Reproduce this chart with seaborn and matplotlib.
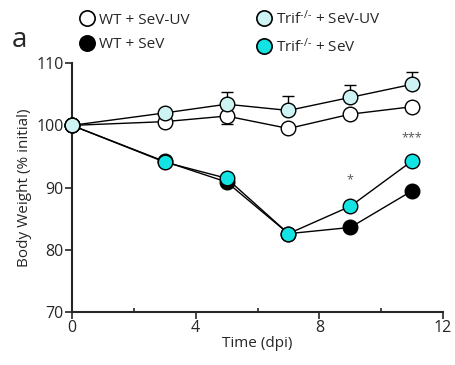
import matplotlib
matplotlib.use("Agg")
import matplotlib.pyplot as plt
from matplotlib.lines import Line2D
from matplotlib.ticker import MultipleLocator
import numpy as np
import pandas as pd
import seaborn as sns

# body weight (% initial)
days = [0, 3, 5, 7, 9, 11]
wt_uv = [100.0, 100.6, 101.5, 99.5, 101.8, 103.0]
wt_sev = [100.0, 94.2, 90.9, 82.6, 83.6, 89.5]
trif_uv = [100.0, 102.0, 103.4, 102.4, 104.5, 106.6]
trif_sev = [100.0, 94.1, 91.5, 82.6, 87.0, 94.3]
# visible error bars (one-sided)
trif_uv_err_up = [0.0, 0.0, 2.0, 2.4, 2.0, 1.9]
wt_uv_err_down = [0.0, 0.0, 1.2, 0.0, 0.0, 0.0]
# significance marks
sig_days = [9, 11]
sig_y = [91.3, 98.0]
sig_text = ["*", "***"]

labels = ["WT + SeV-UV", "WT + SeV", "Trif$^{\u2010/\u2010}$ + SeV-UV", "Trif$^{\u2010/\u2010}$ + SeV"]
colors = ["white", "black", "#cdf3f3", "#14e3e3"]

sns.set_style("ticks")
plt.rcParams["font.family"] = ["Open Sans", "DejaVu Sans"]
plt.rcParams["mathtext.fontset"] = "custom"
plt.rcParams["mathtext.rm"] = "Open Sans"
plt.rcParams["mathtext.it"] = "Open Sans"
plt.rcParams["mathtext.default"] = "rm"

fig = plt.figure(figsize=(4.55, 3.65), dpi=100)
ax = fig.add_axes([0.158, 0.145, 0.816, 0.682])

series = {labels[0]: wt_uv, labels[1]: wt_sev, labels[2]: trif_uv, labels[3]: trif_sev}
draw_order = [0, 1, 3, 2]

ax.errorbar(days, wt_uv, yerr=[wt_uv_err_down, [0] * len(days)], fmt="none",
            ecolor="black", elinewidth=1, capsize=4.5, capthick=1, zorder=1)
ax.errorbar(days, trif_uv, yerr=[[0] * len(days), trif_uv_err_up], fmt="none",
            ecolor="black", elinewidth=1, capsize=4.5, capthick=1, zorder=1)

for k, i in enumerate(draw_order):
    df = pd.DataFrame({"day": days, "w": series[labels[i]]})
    sns.lineplot(data=df, x="day", y="w", ax=ax, color="black", lw=1,
                 marker="o", markersize=10.5, markerfacecolor=colors[i],
                 markeredgecolor="black", markeredgewidth=1, zorder=2 + k,
                 clip_on=False)

for d, y, t in zip(sig_days, sig_y, sig_text):
    ax.text(d, y, t, ha="center", va="center", fontsize=9, color="#555555")

ax.set_xlim(0, 12)
ax.set_ylim(70, 110)
ax.set_xticks([0, 4, 8, 12])
ax.xaxis.set_minor_locator(MultipleLocator(2))
ax.set_yticks([70, 80, 90, 100, 110])
ax.tick_params(axis="both", which="major", length=5, width=1.2, labelsize=11.5, pad=1)
ax.tick_params(axis="x", which="minor", length=3, width=1.2, direction="in")
for s in ["left", "bottom"]:
    ax.spines[s].set_linewidth(1.5)
sns.despine(ax=ax)
ax.set_xlabel("Time (dpi)", fontsize=11, labelpad=0)
ax.set_ylabel("Body Weight (% initial)", fontsize=11, labelpad=3)

handles = [Line2D([], [], ls="none", marker="o", markersize=11,
                  markerfacecolor=c, markeredgecolor="black", markeredgewidth=1.2)
           for c in colors]
fig.legend(handles, labels, ncol=2, loc="upper left", bbox_to_anchor=(0.155, 1.0),
           frameon=False, fontsize=11, handlelength=0.9, handletextpad=0.35,
           columnspacing=4.4, labelspacing=0.6, borderaxespad=0.2)

fig.text(0.025, 0.87, "a", fontsize=20)

fig.savefig("out.png", dpi=100)
